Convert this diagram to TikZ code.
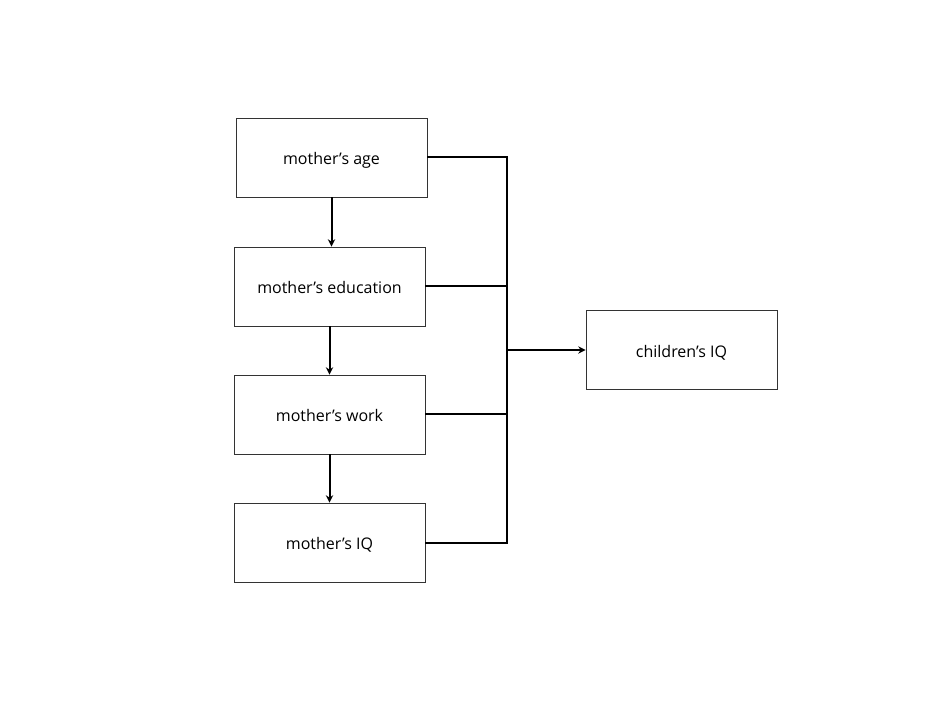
\documentclass[tikz,border=0pt]{standalone}
\usepackage{fontspec}
\setmainfont{Open Sans}
\usetikzlibrary{arrows.meta}
\begin{document}
\begin{tikzpicture}[x=0.75pt,y=-0.75pt,
  box/.style={draw=black!80,line width=0.6pt,minimum width=143.25pt,minimum height=59.25pt,inner sep=0pt,text height=11.5pt,text depth=0.3pt,font=\fontsize{12}{14}\selectfont},
  conn/.style={line width=1.5pt},
  arr/.style={line width=1.5pt,-{Stealth[length=5.5pt,width=5.5pt]}}]
\useasboundingbox (0,0) rectangle (950,716);
\node[box] (age) at (331.5,157.5) {mother’s age};
\node[box] (edu) at (329.5,286.5) {mother’s education};
\node[box] (work) at (329.5,414.5) {mother’s work};
\node[box] (iq) at (329.5,542.5) {mother’s IQ};
\node[box] (child) at (681.5,350) {children’s IQ};
\coordinate (trunk) at (507,350);
\draw[conn] (age.east) -- (trunk |- age.east) -- (trunk |- iq.east) -- (iq.east);
\draw[conn] (edu.east) -- (trunk |- edu.east);
\draw[conn] (work.east) -- (trunk |- work.east);
\draw[arr] (trunk) -- (child.west);
\draw[arr] (age.south) -- (age.south |- edu.north);
\draw[arr] (edu.south) -- (work.north);
\draw[arr] (work.south) -- (iq.north);
\end{tikzpicture}
\end{document}
